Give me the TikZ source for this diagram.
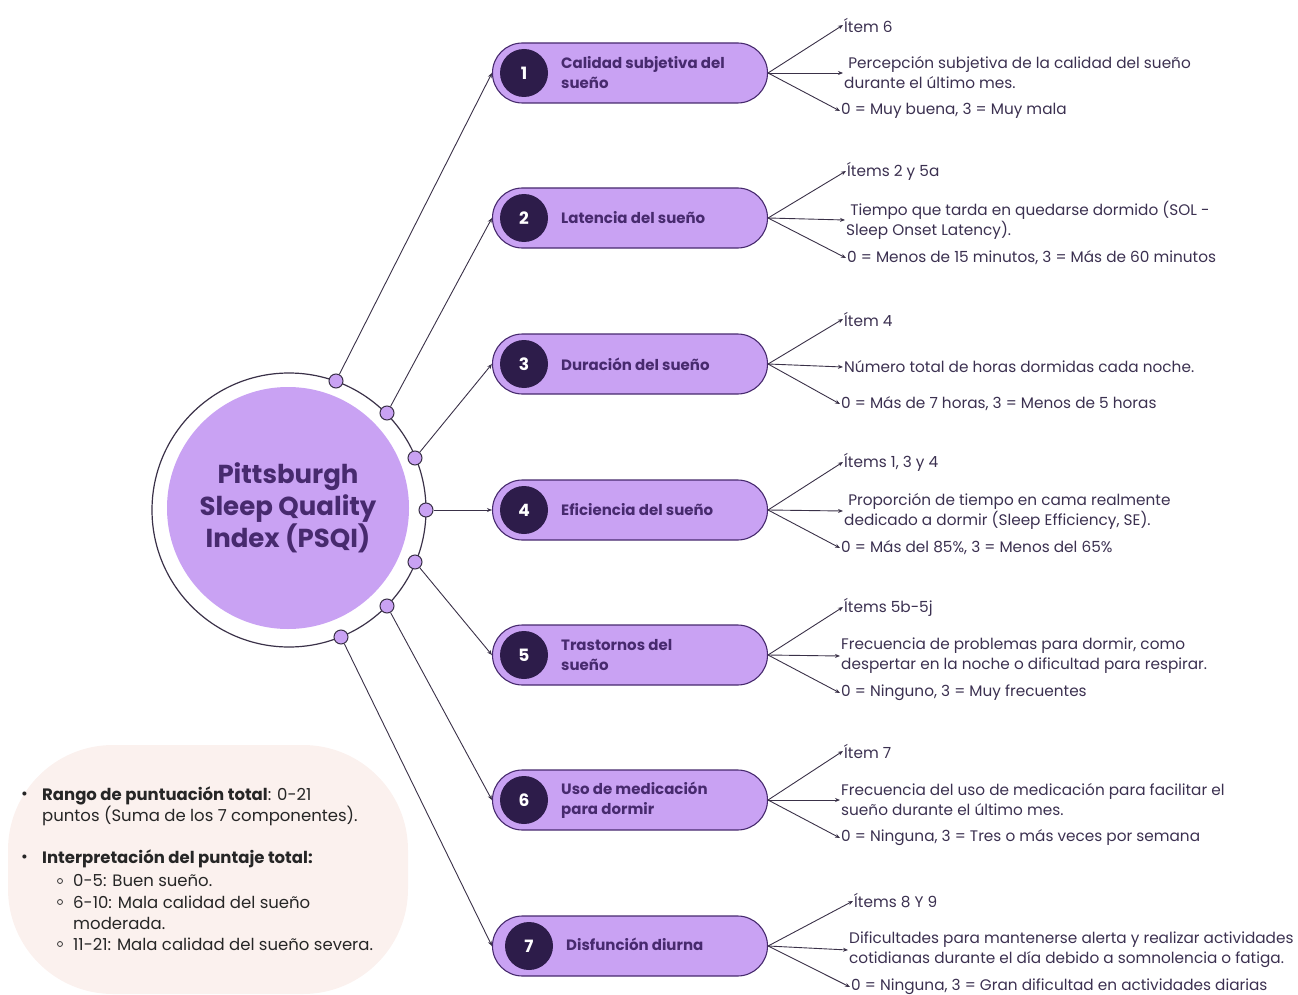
\documentclass[tikz,border=0pt]{standalone}
\usepackage{fontspec}
\setmainfont{Poppins}
\usetikzlibrary{arrows.meta}
\definecolor{lilac}{HTML}{C9A2F3}
\definecolor{ink}{HTML}{2D1C4A}
\definecolor{plum}{HTML}{472A6E}
\definecolor{linec}{HTML}{3A3148}
\definecolor{textc}{HTML}{3B3050}
\definecolor{blush}{HTML}{FBF1EE}
\begin{document}
\begin{tikzpicture}[x=1pt,y=-1pt,
  pill/.style={draw=plum, line width=1.1pt, fill=lilac, rounded corners=30pt,
    minimum width=275pt, minimum height=60pt, inner sep=0pt},
  num/.style={circle, fill=ink, minimum size=48pt, inner sep=0pt, text=white,
    font=\fontsize{17}{20}\selectfont\bfseries},
  lbl/.style={anchor=west, text=plum, font=\fontsize{15}{20}\selectfont\bfseries,
    align=left, inner sep=0pt},
  dot/.style={circle, draw=linec, fill=lilac, line width=1pt, minimum size=14pt, inner sep=0pt},
  info/.style={anchor=west, text=textc, font=\fontsize{15.3}{20}\selectfont, align=left, inner sep=1pt},
  conn/.style={draw=linec, line width=0.9pt, -{Stealth[length=5pt,width=4pt]}},
  note/.style={anchor=west, text=black!85, font=\fontsize{16.5}{21}\selectfont, align=left, inner sep=0pt},
  subdot/.style={circle, draw=black!80, line width=0.8pt, minimum size=5pt, inner sep=0pt}]
\useasboundingbox (0,0) rectangle (1298,995);

% summary panel
\fill[blush, rounded corners=105pt] (8,745) rectangle (408,994);

% central index circle
\node[circle, draw=linec, line width=1.2pt, minimum size=274pt, inner sep=0pt] (ring) at (289,510) {};
\node[circle, fill=lilac, minimum size=242pt, inner sep=0pt, text=plum,
  font=\fontsize{26}{32}\selectfont\bfseries, align=center] (title) at (288,508)
  {Pittsburgh\\Sleep Quality\\Index (PSQI)};

% ring markers
\node[dot] (d1) at (336,381) {};
\node[dot] (d2) at (387,413) {};
\node[dot] (d3) at (415,458) {};
\node[dot] (d4) at (426,510) {};
\node[dot] (d5) at (415,562) {};
\node[dot] (d6) at (387,606) {};
\node[dot] (d7) at (341,637) {};

% component pills
\foreach \i/\y/\t in {1/73/{Calidad subjetiva del\\sueño},
                      2/218/{Latencia del sueño},
                      3/364/{Duración del sueño},
                      4/510/{Eficiencia del sueño},
                      5/655/{Trastornos del\\sueño},
                      6/800/{Uso de medicación\\para dormir}}{
  \node[pill] (p\i) at (630,\y) {};
  \node[num] (n\i) at (524,\y) {\i};
  \node[lbl] (l\i) at (561,\y) {\t};
}
\node[pill] (p7) at (630,946) {};
\node[num] (n7) at (529,946) {7};
\node[lbl] (l7) at (566,944) {Disfunción diurna};

\foreach \i in {1,...,7}{\draw[conn] (d\i) -- (p\i.west);}

% component details
\node[info] (a1) at (843,25)  {Ítem 6};
\node[info] (b1) at (843,73)  {\ Percepción subjetiva de la calidad del sueño\\durante el último mes.};
\node[info] (c1) at (840,111) {0 = Muy buena, 3 = Muy mala};

\node[info] (a2) at (846,171) {Ítems 2 y 5a};
\node[info] (b2) at (845,220) {\ Tiempo que tarda en quedarse dormido (SOL -\\Sleep Onset Latency).};
\node[info] (c2) at (846,258) {0 = Menos de 15 minutos, 3 = Más de 60 minutos};

\node[info] (a3) at (843,319) {Ítem 4};
\node[info] (b3) at (843,367) {Número total de horas dormidas cada noche.};
\node[info] (c3) at (840,404) {0 = Más de 7 horas, 3 = Menos de 5 horas};

\node[info] (a4) at (843,462) {Ítems 1, 3 y 4};
\node[info] (b4) at (843,511) {\ Proporción de tiempo en cama realmente\\dedicado a dormir (Sleep Efficiency, SE).};
\node[info] (c4) at (840,548) {0 = Más del 85\%, 3 = Menos del 65\%};

\node[info] (a5) at (843,607) {Ítems 5b-5j};
\node[info] (b5) at (840,656) {Frecuencia de problemas para dormir, como\\despertar en la noche o dificultad para respirar.};
\node[info] (c5) at (840,693) {0 = Ninguno, 3 = Muy frecuentes};

\node[info] (a6) at (843,751) {Ítem 7};
\node[info] (b6) at (840,800) {Frecuencia del uso de medicación para facilitar el\\sueño durante el último mes.};
\node[info] (c6) at (840,838) {0 = Ninguna, 3 = Tres o más veces por semana};

\node[info] (a7) at (853,901) {Ítems 8 Y 9};
\node[info] (b7) at (848,950) {Dificultades para mantenerse alerta y realizar actividades\\cotidianas durante el día debido a somnolencia o fatiga.};
\node[info] (c7) at (850,987) {0 = Ninguna, 3 = Gran dificultad en actividades diarias};

\foreach \i in {1,...,7}{
  \draw[conn] (p\i.east) -- (a\i.west);
  \draw[conn] (p\i.east) -- (b\i.west);
  \draw[conn] (p\i.east) -- (c\i.west);
}

% scoring summary
\node[note] (m1) at (21,796) {•};
\node[note] (r1) at (42,806.5) {\textbf{Rango de puntuación total}: 0-21\\puntos (Suma de los 7 componentes).};
\node[note] (m2) at (21,859) {•};
\node[note] (r2) at (42,859) {\textbf{Interpretación del puntaje total:}};
\node[subdot] (o1) at (60,881) {};
\node[subdot] (o2) at (60,902) {};
\node[subdot] (o3) at (60,944) {};
\node[note] (s1) at (73,881) {0-5: Buen sueño.};
\node[note] (s2) at (73,912.5) {6-10: Mala calidad del sueño\\moderada.};
\node[note] (s3) at (73,944) {11-21: Mala calidad del sueño severa.};
\end{tikzpicture}
\end{document}
